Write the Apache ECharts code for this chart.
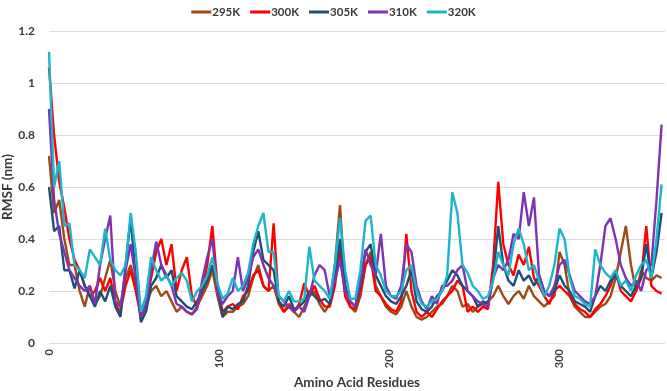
<!DOCTYPE html>
<html>
<head>
<meta charset="utf-8">
<script src="https://cdn.jsdelivr.net/npm/echarts@6/dist/echarts.min.js"></script>
<style>
html,body{margin:0;padding:0;background:#fff;}
#rmsf{width:667px;height:391px;}
</style>
</head>
<body>
<div id="rmsf"></div>
<script>
var residues=[0,3,6,9,12,15,18,21,24,27,30,33,36,39,42,45,48,51,54,57,60,63,66,69,72,75,78,81,84,87,90,93,96,99,
102,105,108,111,114,117,120,123,126,129,132,135,138,141,144,147,150,153,156,159,162,165,168,171,174,177,180,183,186,189,192,195,198,
201,204,207,210,213,216,219,222,225,228,231,234,237,240,243,246,249,252,255,258,261,264,267,270,273,276,279,282,285,288,291,294,297,
300,303,306,309,312,315,318,321,324,327,330,333,336,339,342,345,348,351,354,357,360];

var k295=[.72,.50,.55,.40,.30,.30,.20,.14,.22,.15,.18,.25,.32,.20,.14,.25,.30,.22,.10,.14,.20,.22,.18,.20,.16,.12,.14,.12,.11,.14,.18,.22,.28,.18,
.10,.12,.12,.14,.15,.18,.25,.30,.22,.20,.22,.15,.12,.14,.12,.10,.14,.18,.20,.15,.12,.15,.30,.53,.22,.14,.12,.18,.30,.35,.22,.18,.14,
.12,.11,.14,.20,.14,.10,.09,.10,.12,.14,.15,.18,.22,.20,.14,.15,.12,.14,.15,.16,.18,.22,.18,.15,.18,.20,.17,.22,.18,.16,.14,.16,.18,
.35,.30,.18,.14,.12,.10,.10,.12,.14,.15,.18,.25,.35,.45,.30,.20,.28,.25,.24,.26,.25];

var k300=[1.06,.80,.62,.52,.40,.32,.28,.22,.18,.20,.25,.20,.25,.15,.12,.22,.28,.20,.10,.15,.25,.35,.40,.30,.38,.20,.28,.33,.18,.14,.20,.30,.45,.22,
.12,.14,.15,.13,.18,.20,.26,.28,.22,.20,.46,.16,.12,.15,.12,.15,.23,.18,.22,.17,.14,.14,.22,.36,.18,.14,.13,.20,.30,.33,.20,.18,.15,
.13,.12,.16,.42,.20,.12,.10,.12,.10,.13,.16,.18,.20,.24,.22,.12,.14,.12,.14,.13,.30,.62,.38,.30,.26,.34,.30,.37,.25,.22,.18,.15,.20,
.22,.20,.18,.15,.13,.12,.10,.13,.15,.18,.22,.28,.20,.18,.16,.20,.25,.45,.22,.20,.19];

var k305=[.60,.43,.45,.28,.28,.21,.28,.22,.18,.14,.20,.16,.22,.14,.10,.30,.48,.25,.08,.12,.22,.25,.30,.25,.28,.18,.16,.14,.13,.16,.20,.24,.30,.22,
.10,.14,.13,.15,.16,.22,.35,.43,.32,.30,.28,.16,.14,.18,.13,.14,.16,.20,.18,.16,.17,.15,.25,.40,.22,.16,.14,.22,.35,.38,.26,.22,.18,
.16,.15,.18,.22,.28,.16,.13,.12,.14,.18,.20,.24,.28,.26,.22,.20,.18,.14,.16,.15,.25,.45,.30,.24,.22,.28,.24,.26,.22,.26,.20,.18,.20,
.26,.22,.20,.16,.15,.14,.12,.18,.22,.20,.24,.26,.22,.20,.18,.22,.25,.38,.25,.35,.50];

var k310=[.90,.55,.42,.35,.28,.25,.22,.20,.22,.15,.30,.40,.49,.16,.14,.28,.38,.25,.10,.15,.28,.39,.30,.26,.22,.15,.14,.12,.11,.13,.24,.33,.40,.20,
.15,.18,.20,.33,.20,.25,.33,.36,.30,.25,.22,.18,.16,.14,.12,.14,.12,.18,.26,.30,.28,.18,.24,.32,.20,.16,.14,.24,.36,.30,.26,.42,.22,
.18,.17,.22,.38,.35,.22,.16,.13,.18,.15,.22,.22,.24,.28,.30,.20,.18,.16,.15,.14,.25,.30,.28,.32,.42,.40,.58,.45,.56,.26,.20,.18,.22,
.30,.32,.26,.20,.18,.16,.15,.18,.30,.45,.48,.40,.30,.25,.22,.24,.20,.28,.30,.55,.84];

var k320=[1.12,.60,.70,.45,.46,.30,.28,.25,.36,.33,.30,.44,.32,.28,.26,.30,.50,.35,.12,.18,.33,.28,.24,.26,.22,.25,.27,.24,.16,.20,.22,.26,.33,.23,
.17,.19,.25,.20,.22,.27,.38,.45,.50,.35,.35,.18,.16,.20,.16,.16,.17,.37,.24,.22,.20,.17,.30,.48,.28,.17,.17,.28,.47,.49,.30,.26,.20,
.18,.18,.20,.28,.30,.20,.15,.14,.16,.17,.20,.26,.58,.50,.30,.27,.22,.20,.17,.18,.24,.35,.30,.26,.38,.44,.38,.28,.30,.24,.18,.22,.30,
.44,.40,.25,.18,.17,.15,.14,.36,.30,.27,.25,.28,.22,.24,.20,.26,.30,.32,.25,.40,.61];

var names=['295K','300K','305K','310K','320K'];
var colors=['#9C4A16','#FF0000','#1F4E79','#7E33B4','#1CB5CB'];
var values=[k295,k300,k305,k310,k320];

function pairs(v){
    return residues.map(function(r,i){return [r,v[i]];});
}

var series=[];
names.forEach(function(n,i){
    series.push({
        name:n,
        type:'line',
        data:pairs(values[i]),
        showSymbol:false,
        lineStyle:{width:2.4,color:colors[i]},
        itemStyle:{color:colors[i]}
    });
});

var txt='#3a3a3a';
var myChart=echarts.init(document.getElementById('rmsf'));
myChart.setOption({
    animation:false,
    textStyle:{fontFamily:'Lato'},
    legend:{
        data:names,
        top:1,
        left:'center',
        itemWidth:20,
        itemHeight:3,
        itemGap:10,
        icon:'rect',
        textStyle:{fontWeight:'bold',fontSize:11.5,color:txt,padding:[0,0,0,-4]}
    },
    grid:{left:49,right:2,top:31,bottom:48,containLabel:false,outerBoundsMode:'none'},
    xAxis:{
        type:'value',
        min:0,
        max:362,
        interval:100,
        name:'Amino Acid Residues',
        nameLocation:'middle',
        nameGap:31,
        nameTextStyle:{fontWeight:'bold',fontSize:13.5,color:txt},
        axisLine:{show:false},
        axisTick:{show:false},
        splitLine:{show:false},
        axisLabel:{rotate:90,fontWeight:'bold',fontSize:11,color:txt,showMaxLabel:false,margin:6}
    },
    yAxis:{
        type:'value',
        min:0,
        max:1.2,
        interval:0.2,
        name:'RMSF (nm)',
        nameLocation:'middle',
        nameGap:34,
        nameMoveOverlap:false,
        nameTextStyle:{fontWeight:'bold',fontSize:13.5,color:txt},
        axisLine:{show:false},
        axisTick:{show:false},
        splitLine:{lineStyle:{color:'#dcdcdc',width:1}},
        axisLabel:{fontWeight:'bold',fontSize:12,color:txt,margin:14}
    },
    series:series
});
</script>
</body>
</html>
